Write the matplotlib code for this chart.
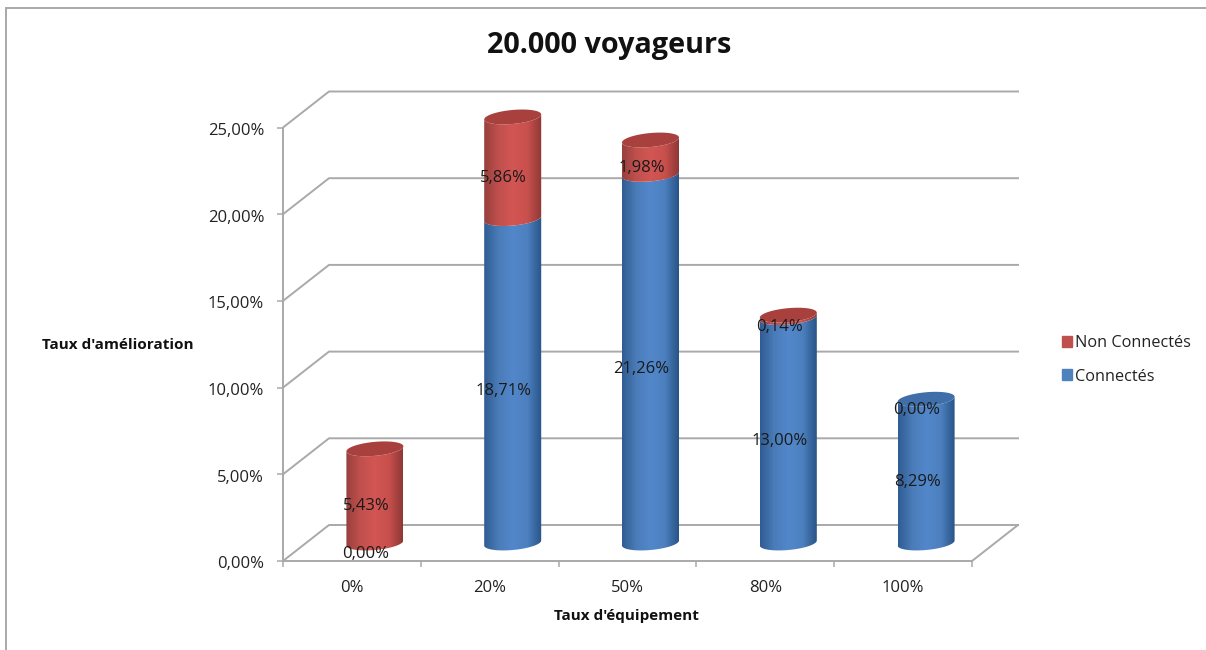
import numpy as np
import matplotlib
matplotlib.use('Agg')
import matplotlib.pyplot as plt
from matplotlib.colors import LinearSegmentedColormap
from matplotlib.lines import Line2D
from matplotlib.patches import PathPatch, Patch
from matplotlib.path import Path
from matplotlib.transforms import ScaledTranslation

categories = ['0%', '20%', '50%', '80%', '100%']
connectes = [0.00, 18.71, 21.26, 13.00, 8.29]
non_connectes = [5.43, 5.86, 1.98, 0.14, 0.00]
y_ticks = [0, 5, 10, 15, 20, 25]

plt.rcParams['font.family'] = ['Open Sans', 'DejaVu Sans']

W, H = 1206, 650
fig = plt.figure(figsize=(W / 100, H / 100), dpi=100, facecolor='white')
# plan avant du graphique, en pixels de l'image
left, right, bottom, top = 283, 972, 561, 127.5
ax = fig.add_axes([left / W, 1 - bottom / H, (right - left) / W, (bottom - top) / H])
ax.set_xlim(-0.5, 4.5)
ax.set_ylim(0, 25)
ax.set_facecolor('none')

# conversion pixels -> unites des axes
px_x = 5 / (right - left)
px_y = 25 / (bottom - top)
depth_x = 46 * px_x
depth_y = 36 * px_y

grid_col = '#a9a9a9'
for v in y_ticks:
    ax.plot([-0.5, -0.5 + depth_x, 4.5 + depth_x], [v, v + depth_y, v + depth_y],
            color=grid_col, lw=1.4, clip_on=False, zorder=1)
ax.plot([4.5, 4.5 + depth_x], [0, depth_y], color=grid_col, lw=1.4, clip_on=False, zorder=1)

for s in ['top', 'right']:
    ax.spines[s].set_visible(False)
for s in ['left', 'bottom']:
    ax.spines[s].set_color(grid_col)
    ax.spines[s].set_linewidth(1.4)

ax.set_yticks(y_ticks)
ax.set_yticklabels(['%d,00%%' % v for v in y_ticks], fontsize=12, color='#222222')
ax.tick_params(axis='y', length=4, width=1.1, color=grid_col, pad=9.5)
# les etiquettes de l'axe y sont un peu plus bas que les graduations
for label in ax.get_yticklabels():
    label.set_transform(label.get_transform() + ScaledTranslation(0, -1.5 / 100, fig.dpi_scale_trans))
ax.set_xticks(np.arange(-0.5, 5, 1))
ax.set_xticklabels([])
ax.set_xticks(range(5), categories, minor=True, fontsize=12, color='#222222')
ax.tick_params(axis='x', which='major', length=4.5, width=1.1, color=grid_col)
ax.tick_params(axis='x', which='minor', length=0, pad=13.5)

red_map = LinearSegmentedColormap.from_list('r', ['#96403d', '#c0504d', '#d25653', '#c9504d', '#8d3836'])
blue_map = LinearSegmentedColormap.from_list('b', ['#2f5c92', '#4a7cb8', '#5287cb', '#4c80bf', '#285487'])
gradient = np.linspace(0, 1, 256).reshape(1, -1)

half_w = 28.5 * px_x
ell_h = 7 * px_y
tilt = 2.5 * px_y
t = np.linspace(np.pi, 2 * np.pi, 50)


def front_arc(cx, y, forward=True):
    xs = cx + half_w * np.cos(t)
    ys = y + ell_h * np.sin(t) + tilt * np.cos(t)
    if forward:
        return list(zip(xs, ys))
    return list(zip(xs[::-1], ys[::-1]))


def segment(cx, y0, y1, cmap):
    pts = front_arc(cx, y0) + front_arc(cx, y1, False)
    pts.append(pts[0])
    codes = [Path.MOVETO] + [Path.LINETO] * (len(pts) - 2) + [Path.CLOSEPOLY]
    patch = PathPatch(Path(pts, codes), fc='none', ec='none', transform=ax.transData)
    ax.add_patch(patch)
    im = ax.imshow(gradient, cmap=cmap, aspect='auto', zorder=3,
                   extent=[cx - half_w, cx + half_w, y0 - 2 * ell_h, y1 + 2 * ell_h])
    im.set_clip_box(fig.bbox)
    im.set_clip_path(patch)


def cap(cx, y, color):
    a = np.linspace(0, 2 * np.pi, 100)
    xs = cx + half_w * np.cos(a)
    ys = y + ell_h * np.sin(a) + tilt * np.cos(a)
    ax.fill(xs, ys, color=color, lw=0, zorder=4, clip_on=False)


base = depth_y / 2
for i in range(len(categories)):
    cx = i + depth_x / 2
    b = connectes[i]
    n = non_connectes[i]
    if b > 0:
        segment(cx, base, base + b, blue_map)
    if n > 0:
        segment(cx, base + b, base + b + n, red_map)
    cap(cx, base + b + n, '#a8413e' if n > 0 else '#3f6ea8')
    # etiquettes
    tx = i + 14 * px_x
    ty = 7.5 * px_y
    ax.text(tx, b / 2 + ty, ('%.2f%%' % b).replace('.', ','), ha='center', va='center',
            fontsize=12, color='#1a1a1a', zorder=6, clip_on=False)
    ax.text(tx, b + n / 2 + ty, ('%.2f%%' % n).replace('.', ','), ha='center', va='center',
            fontsize=12, color='#1a1a1a', zorder=6, clip_on=False)

ax.set_xlim(-0.5, 4.5)
ax.set_ylim(0, 25)

fig.text(609 / W, 1 - 46 / H, '20.000 voyageurs', ha='center', va='center',
         fontsize=20.8, fontweight='bold', color='#111111')
fig.text(118 / W, 1 - 345 / H, "Taux d'amélioration", ha='center', va='center',
         fontsize=11, fontweight='bold', color='#111111')
fig.text(626 / W, 1 - 616 / H, "Taux d'équipement", ha='center', va='center',
         fontsize=11, fontweight='bold', color='#111111')

handles = [Patch(color='#c0504d', label='Non Connectés'), Patch(color='#4f81bd', label='Connectés')]
fig.legend(handles=handles, loc='center left', bbox_to_anchor=(1047 / W, 1 - 360 / H), frameon=False,
           fontsize=11.7, labelspacing=1.05, handlelength=0.65, handleheight=0.65, handletextpad=0.2,
           labelcolor='#222222')

# cadre gris de la capture, en haut et a gauche seulement
for xs, ys in [((6, 6), (8, 650)), ((6, 1206), (8, 8))]:
    fig.add_artist(Line2D([x / W for x in xs], [1 - y / H for y in ys], color='#a9a9a9', lw=1.4))

fig.savefig('out.png', dpi=100)
